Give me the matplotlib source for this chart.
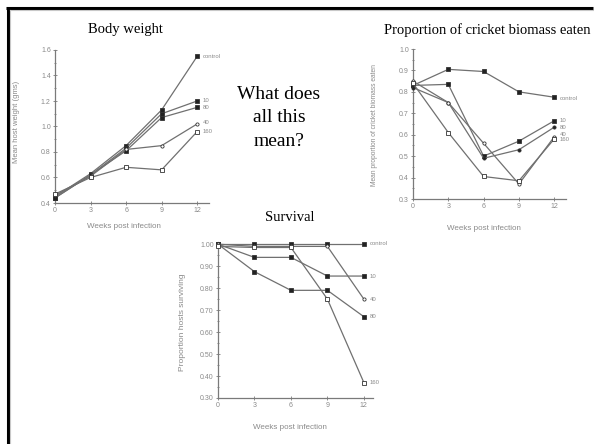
import matplotlib
matplotlib.use("Agg")
import matplotlib.pyplot as plt
from matplotlib.lines import Line2D
from matplotlib.ticker import MultipleLocator, FormatStrFormatter

# ---------------- data ----------------
weeks = [0, 3, 6, 9, 12]
groups = ["control", "10", "80", "40", "160"]

weight_control = [0.45, 0.63, 0.85, 1.13, 1.55]
weight_10 = [0.44, 0.62, 0.83, 1.10, 1.20]
weight_80 = [0.44, 0.62, 0.81, 1.07, 1.15]
weight_40 = [0.46, 0.61, 0.82, 0.85, 1.02]
weight_160 = [0.47, 0.60, 0.68, 0.66, 0.96]

eaten_control = [0.83, 0.905, 0.895, 0.80, 0.775]
eaten_10 = [0.83, 0.835, 0.50, 0.57, 0.665]
eaten_80 = [0.82, 0.75, 0.49, 0.53, 0.635]
eaten_40 = [0.85, 0.75, 0.56, 0.37, 0.59]
eaten_160 = [0.84, 0.61, 0.405, 0.385, 0.58]

surv_control = [1.00, 1.00, 1.00, 1.00, 1.00]
surv_10 = [1.00, 0.94, 0.94, 0.855, 0.855]
surv_80 = [1.00, 0.875, 0.79, 0.79, 0.67]
surv_40 = [1.00, 0.99, 0.99, 0.99, 0.75]
surv_160 = [0.99, 0.985, 0.985, 0.75, 0.37]

weight_ticks = [0.4, 0.6, 0.8, 1.0, 1.2, 1.4, 1.6]
eaten_ticks = [0.3, 0.4, 0.5, 0.6, 0.7, 0.8, 0.9, 1.0]
surv_ticks = [0.30, 0.40, 0.50, 0.60, 0.70, 0.80, 0.90, 1.00]

# ---------------- figure ----------------
W, H = 594, 444
fig = plt.figure(figsize=(W / 100, H / 100), dpi=100)
fig.patch.set_facecolor("white")

SERIF = ["Liberation Serif", "DejaVu Serif"]
SANS = ["Liberation Sans", "DejaVu Sans"]
LINE = "#707070"
AX = "#7a7a7a"
TXT = "#8a8a8a"


def fx(px):
    return px / W


def fy(py):
    return 1 - py / H


def make_ax(x0, y0, x1, y1):
    # pixel box: left, top, right, bottom
    return fig.add_axes([fx(x0), fy(y1), (x1 - x0) / W, (y1 - y0) / H])


def style_ax(ax, ylim, yticks, fmt, minor):
    ax.set_xlim(0, 13)
    ax.set_ylim(*ylim)
    ax.set_xticks(weeks)
    ax.set_yticks(yticks)
    ax.yaxis.set_major_formatter(FormatStrFormatter(fmt))
    ax.yaxis.set_minor_locator(MultipleLocator(minor))
    for s in ["top", "right"]:
        ax.spines[s].set_visible(False)
    for s in ["left", "bottom"]:
        ax.spines[s].set_color(AX)
        ax.spines[s].set_linewidth(0.9)
    ax.tick_params(which="both", direction="inout", color=AX, width=0.6,
                   labelsize=5, labelcolor=TXT, pad=1.5)
    ax.tick_params(which="major", length=3)
    ax.tick_params(which="minor", length=1.6)
    for lab in ax.get_xticklabels() + ax.get_yticklabels():
        lab.set_family(SANS)
    ax.patch.set_alpha(0)


def draw(ax, series, markers, fills, offsets):
    for name, vals, m, f, off in zip(groups, series, markers, fills, offsets):
        ax.plot(weeks, vals, color=LINE, lw=0.9, marker=m, ms=2.3,
                mfc=("#222222" if f else "white"), mec="#333333", mew=0.6,
                clip_on=False, zorder=3)
        ax.annotate(name, xy=(weeks[-1], vals[-1]), xytext=off,
                    textcoords="offset points", fontsize=4.3, color=TXT,
                    va="center", ha="left", family=SANS, annotation_clip=False)


# ---- Body weight ----
ax1 = make_ax(55, 50, 209, 203)
style_ax(ax1, (0.4, 1.6), weight_ticks, "%.1f", 0.1)
draw(ax1, [weight_control, weight_10, weight_80, weight_40, weight_160],
     ["s", "s", "s", "o", "s"], [True, True, True, False, False],
     [(4, 0), (4, 0.5), (4, 0), (4, 1), (4, 0)])
fig.text(fx(125), fy(30), "Body weight", family=SERIF, fontsize=10.5,
         ha="center", va="center")
fig.text(fx(17), fy(122), "Mean host weight (gms)", family=SANS, fontsize=5.5,
         color=TXT, rotation=90, ha="center", va="center")
fig.text(fx(124), fy(226), "Weeks post infection", family=SANS, fontsize=5.8,
         color=TXT, ha="center", va="center")

# ---- Proportion of cricket biomass eaten ----
ax2 = make_ax(413, 49, 566, 199)
style_ax(ax2, (0.3, 1.0), eaten_ticks, "%.1f", 0.05)
draw(ax2, [eaten_control, eaten_10, eaten_80, eaten_40, eaten_160],
     ["s", "s", "o", "o", "s"], [True, True, True, False, False],
     [(4, -1), (4, 0.5), (4, 0), (4, 1.5), (4, -0.5)])
fig.text(fx(487), fy(30), "Proportion of cricket biomass eaten", family=SERIF,
         fontsize=10.5, ha="center", va="center")
fig.text(fx(374), fy(125), "Mean proportion of cricket biomass eaten",
         family=SANS, fontsize=4.8, color=TXT, rotation=90, ha="center",
         va="center")
fig.text(fx(484), fy(228), "Weeks post infection", family=SANS, fontsize=5.8,
         color=TXT, ha="center", va="center")

# ---- Survival ----
ax3 = make_ax(218, 242, 373, 398)
style_ax(ax3, (0.30, 1.01), surv_ticks, "%.2f", 0.05)
ax3.set_xlim(0, 12.75)
draw(ax3, [surv_control, surv_10, surv_80, surv_40, surv_160],
     ["s", "s", "s", "o", "s"], [True, True, True, False, False],
     [(4, 0.5), (4, 0), (4, 0), (4, 0), (4, 0)])
fig.text(fx(290), fy(217), "Survival", family=SERIF, fontsize=10.5,
         ha="center", va="center")
fig.text(fx(182), fy(322), "Proportion hosts surviving", family=SANS,
         fontsize=6, color=TXT, rotation=90, ha="center", va="center")
fig.text(fx(290), fy(427), "Weeks post infection", family=SANS, fontsize=5.8,
         color=TXT, ha="center", va="center")

# ---- centre question ----
fig.text(fx(279), fy(118), "What does\nall this\nmean?", family=SERIF,
         fontsize=14, ha="center", va="center", multialignment="center",
         linespacing=1.5)

# ---- slide border (top and left) ----
fig.add_artist(Line2D([fx(6), fx(593)], [fy(8), fy(8)], color="black", lw=2.2,
                      transform=fig.transFigure, solid_capstyle="butt"))
fig.add_artist(Line2D([fx(8), fx(8)], [fy(7), fy(444)], color="black", lw=2.2,
                      transform=fig.transFigure, solid_capstyle="butt"))
fig.add_artist(Line2D([fx(9.5), fx(593)], [fy(10.3), fy(10.3)], color="#c8c8c8",
                      lw=0.8, transform=fig.transFigure))
fig.add_artist(Line2D([fx(10.3), fx(10.3)], [fy(10), fy(444)], color="#c8c8c8",
                      lw=0.8, transform=fig.transFigure))

fig.savefig("out.png", dpi=100)
